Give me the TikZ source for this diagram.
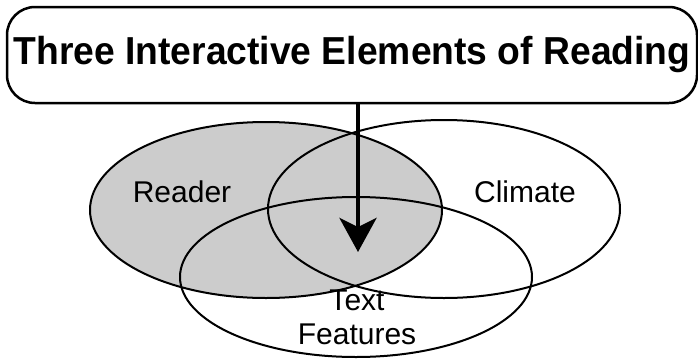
\documentclass[tikz,border=0pt]{standalone}
\usepackage{fontspec}
\setmainfont{Liberation Sans}
\newfontfamily\titlefont{Liberation Sans}[FakeStretch=0.955]
\usetikzlibrary{arrows.meta}
\begin{document}
\begin{tikzpicture}[x=1pt,y=1pt,label/.style={font=\fontsize{30}{34}\selectfont}]
        \useasboundingbox (0,0) rectangle (698,360);
        %% reader (shaded)
        \fill[gray!40] (266,150) ellipse [x radius=176pt, y radius=88pt];
        %% outlines: reader, climate, text features
        \foreach \cx/\cy/\ry in {266/150/88, 444/151/89, 356/83/80} \draw[line width=2pt] (\cx,\cy) ellipse [x radius=176pt, y radius=\ry pt];
        %% labels
        \node[label,anchor=base] (reader) at (182,158) {Reader};
        \node[label,anchor=base] (climate) at (525,158) {Climate};
        \node[label,align=center] (features) at (357,43) {Text\\Features};
        %% title
        \node[draw,line width=2.5pt,rounded corners=28pt,minimum width=690pt,minimum height=96pt,font=\titlefont\bfseries\fontsize{39}{44}\selectfont] (title) at (352,305) {Three Interactive Elements of Reading};
        %% arrow
        \coordinate (tip) at (358,108);
        \draw[line width=4pt,-{Stealth[length=34pt,width=37pt,inset=9pt]}] (title.south -| tip) -- (tip);
    \end{tikzpicture}
\end{document}
